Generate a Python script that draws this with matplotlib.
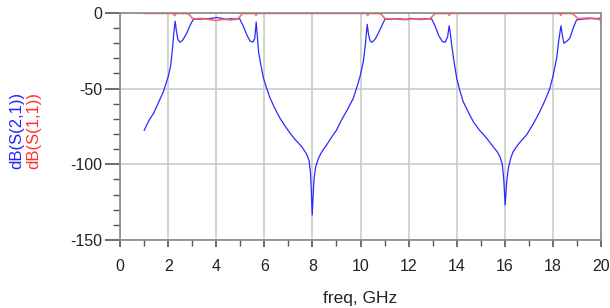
import matplotlib
matplotlib.use('Agg')
import matplotlib.pyplot as plt
from matplotlib.ticker import MultipleLocator

plt.rcParams['font.family'] = ['Liberation Sans', 'DejaVu Sans']
plt.rcParams['axes.unicode_minus'] = False

# dB(S(2,1))
f21 = [1.0, 1.2, 1.4, 1.6, 1.8, 2.0, 2.1, 2.18, 2.24, 2.29, 2.34, 2.4, 2.49, 2.6, 2.77, 2.9,
       3.05, 3.3, 3.6, 3.8, 4.0, 4.2, 4.4, 4.6, 4.8, 4.97, 5.1, 5.27, 5.4, 5.52, 5.6, 5.66,
       5.71, 5.76, 5.85, 5.96, 6.1, 6.24, 6.45, 6.65, 6.85, 7.07, 7.3, 7.55, 7.75, 7.86,
       7.92, 7.96, 7.99, 8.03, 8.07, 8.13, 8.25, 8.4, 8.6, 8.8, 9.0, 9.2, 9.45, 9.7, 9.85,
       9.98, 10.12, 10.2, 10.28, 10.33, 10.4, 10.47, 10.6, 10.74, 10.9, 11.02, 11.3, 11.6,
       11.9, 12.1, 12.4, 12.7, 12.96, 13.1, 13.24, 13.4, 13.52, 13.62, 13.69, 13.74, 13.8,
       13.9, 14.0, 14.13, 14.27, 14.5, 14.69, 14.95, 15.25, 15.5, 15.7, 15.8, 15.9, 15.96,
       16.02, 16.08, 16.15, 16.25, 16.35, 16.6, 16.91, 17.2, 17.46, 17.7, 17.88, 18.02,
       18.16, 18.25, 18.34, 18.39, 18.46, 18.6, 18.71, 18.85, 18.99, 19.3, 19.6, 19.8, 20.0]
s21 = [-77.5, -71, -66, -59, -52, -42, -35, -23, -12, -5.5, -12, -17.5, -19.4, -18, -13.4, -8.5,
       -4, -4.2, -3.8, -3.6, -3.0, -3.5, -4.2, -3.8, -4.0, -3.8, -8, -14.5, -18.5, -19.3, -17, -6,
       -16, -26, -34, -43, -50, -56.4, -63.5, -69.6, -74.5, -79.5, -84, -88.3, -93, -97.5,
       -106, -120, -133.5, -120, -109, -102, -96, -91.5, -87, -82, -77.5, -71, -64, -56.4, -49,
       -42, -32, -21, -7.5, -14, -18.5, -19.4, -17.5, -13.4, -8, -4, -4.2, -3.8,
       -4.3, -3.6, -4.1, -3.8, -4, -8.5, -14.5, -18.8, -19.4, -16, -8.5, -14, -22,
       -33, -43, -51, -58.6, -66, -71.8, -77.5, -82.8, -88, -92, -95, -100, -110,
       -127, -112, -102.6, -96, -91.7, -86, -80.6, -73, -65.2, -57, -49.8, -41,
       -30, -18, -8.5, -14, -20, -18.5, -16.7, -10, -4.6, -4.0, -3.7, -3.9, -3.3]

# dB(S(1,1))
f11 = [1.0, 2.2, 2.26, 2.3, 2.36, 2.8, 2.9, 3.0, 3.1, 3.4, 3.7, 4.0, 4.3, 4.6, 4.9, 5.0, 5.1,
       5.6, 5.65, 5.72, 10.25, 10.3, 10.36, 10.8, 10.9, 11.02, 11.4, 11.8, 12.2, 12.5, 12.9,
       13.0, 13.1, 13.64, 13.69, 13.75, 18.28, 18.33, 18.4, 18.8, 18.92, 19.05, 19.5, 19.8, 20.0]
s11 = [-0.3, -0.3, -1.8, -1.0, -0.3, -0.4, -1.5, -3.5, -4.0, -3.6, -4.3, -5.0, -4.2, -4.6, -4.0, -2, -0.4,
       -0.4, -1.6, -0.3, -0.3, -1.6, -0.3, -0.4, -1.5, -3.8, -4.0, -4.4, -3.9, -4.3, -3.8,
       -2, -0.4, -0.4, -1.6, -0.3, -0.3, -1.5, -0.3, -0.4, -1.8, -3.8, -3.3, -3.7, -4.8]

xticks = [0, 2, 4, 6, 8, 10, 12, 14, 16, 18, 20]
yticks = [0, -50, -100, -150]

fig = plt.figure(figsize=(6.1, 3.08), dpi=100)
ax = fig.add_axes([0.197, 0.221, 0.788, 0.737])

ax.plot(f21, s21, color='#2a2aff', lw=0.9)
ax.plot(f11, s11, color='#ff5a5a', lw=1.3, alpha=0.85)

ax.set_xlim(0, 20)
ax.set_ylim(-150, 0)
ax.set_xticks(xticks)
ax.set_yticks(yticks)
ax.xaxis.set_minor_locator(MultipleLocator(1))
ax.yaxis.set_minor_locator(MultipleLocator(10))
ax.grid(True, which='major', color='#cccccc', lw=1.2)
ax.set_axisbelow(True)

for s in ax.spines.values():
    s.set_color('#888888')
    s.set_linewidth(1.2)

ax.tick_params(axis='y', which='major', length=11, width=1.2, color='#555555', labelsize=11.5, labelcolor='#222222', pad=2)
ax.tick_params(axis='y', which='minor', length=5, width=1.0, color='#555555')
ax.tick_params(axis='x', which='major', length=5, width=1.2, color='#555555', labelsize=11.5, labelcolor='#222222', pad=9)
ax.tick_params(axis='x', which='minor', length=4, width=1.0, color='#555555')

ax.set_xlabel('freq, GHz', fontsize=12.5, color='#222222', labelpad=12)

fig.text(0.028, 0.45, 'dB(S(2,1))', rotation=90, color='#2222ff', fontsize=12, ha='center', va='bottom')
fig.text(0.056, 0.45, 'dB(S(1,1))', rotation=90, color='#ff3030', fontsize=12, ha='center', va='bottom')

fig.savefig('out.png', dpi=100)
